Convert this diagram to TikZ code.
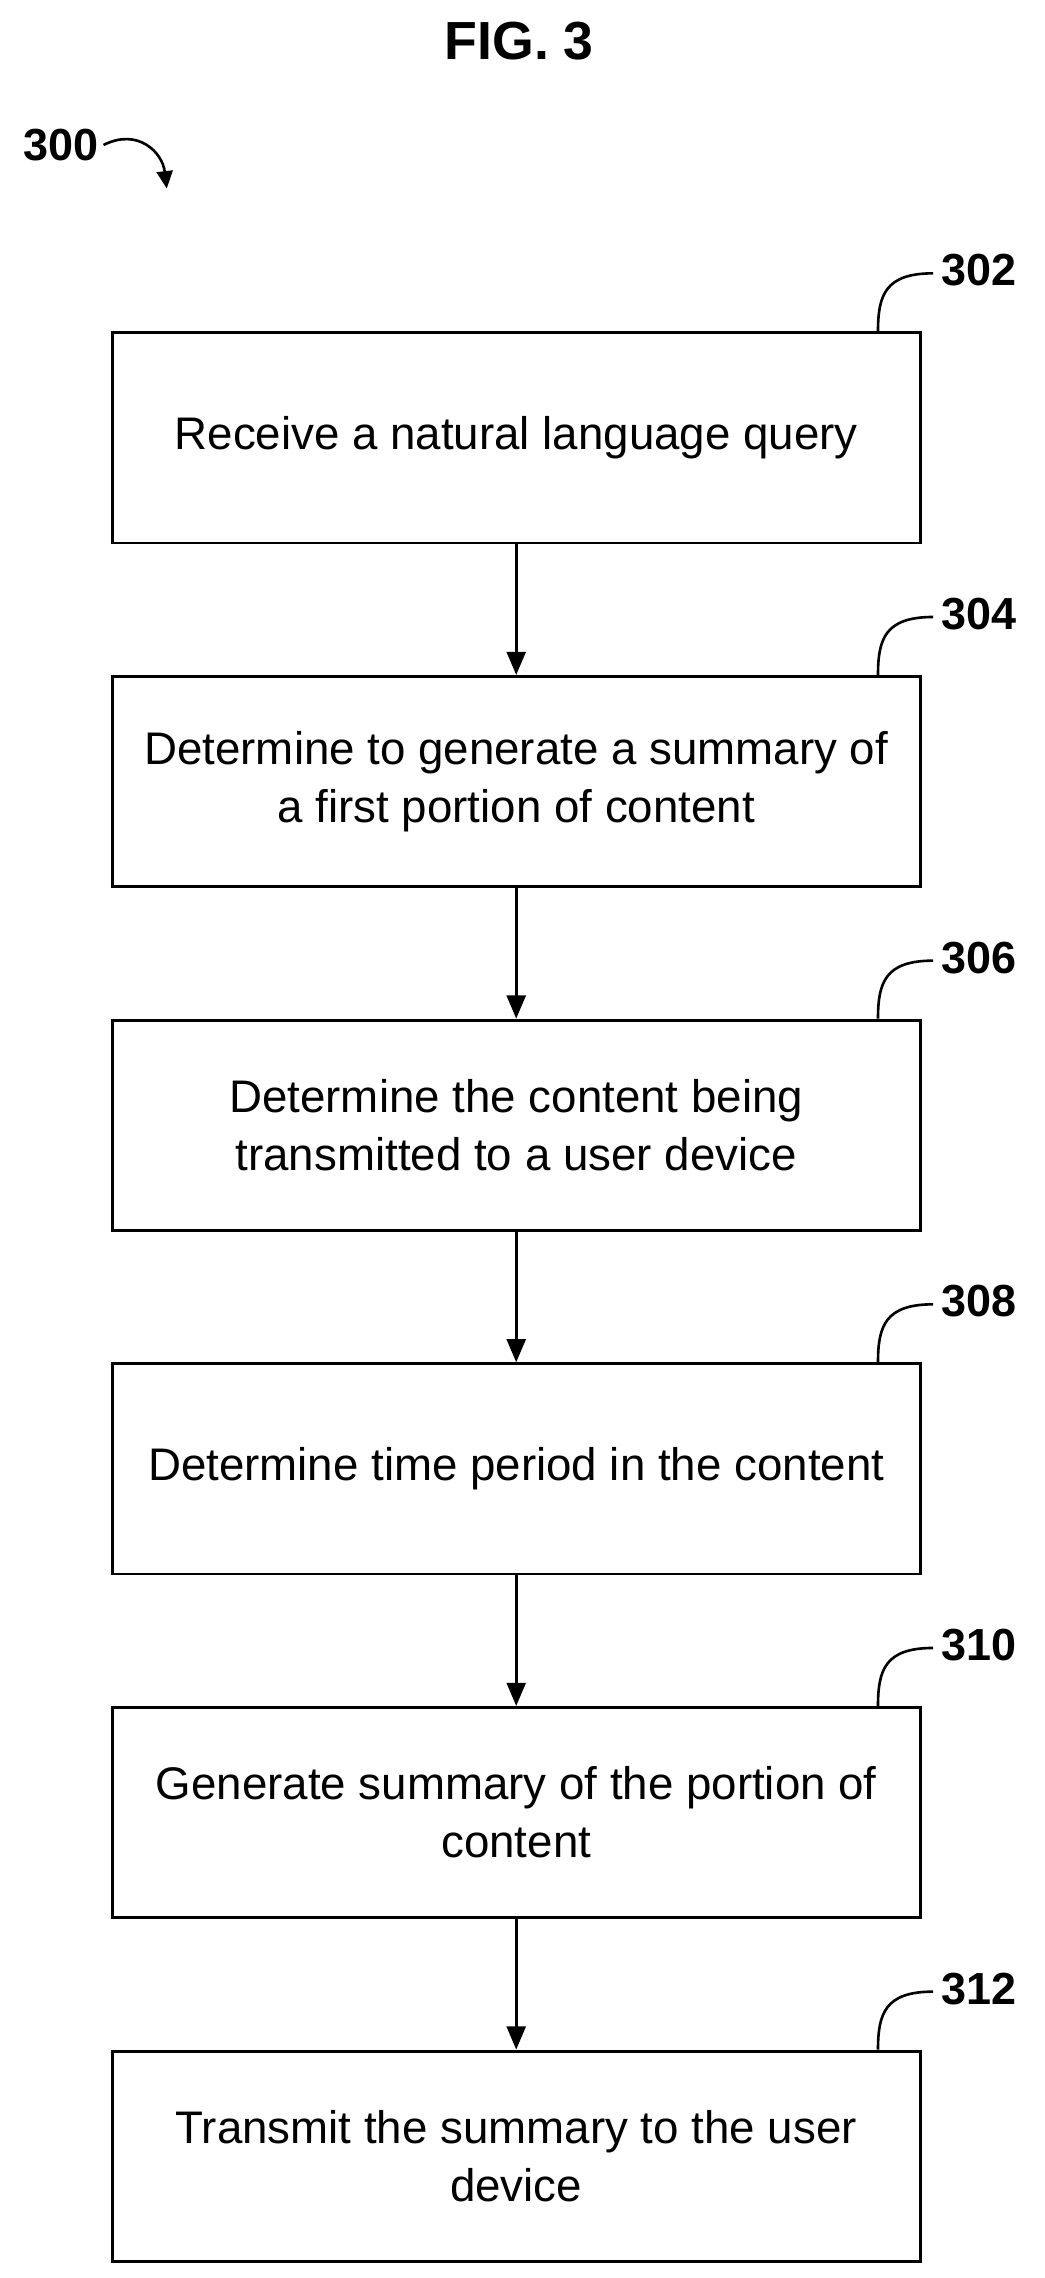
\documentclass[tikz,border=0pt]{standalone}
\usepackage{fontspec}
\setmainfont{Liberation Sans}
\usetikzlibrary{arrows.meta,positioning}
\tikzset{
  stepbox/.style={draw,line width=2pt,minimum width=557pt,minimum height=145pt,
    align=center,font=\fontsize{31.5}{40}\selectfont},
  flow/.style={-{Triangle[length=16pt,width=13pt]},line width=2pt},
  tag/.style={font=\bfseries\fontsize{31}{34}\selectfont}
}
\begin{document}
\begin{tikzpicture}[x=1pt,y=-1pt,node distance=90pt]
  \useasboundingbox (0,0) rectangle (720,1571);
  \node[font=\bfseries\fontsize{37}{40}\selectfont] (fig) at (358,28) {FIG. 3};
  \node[tag] (n300) at (42,100) {300};
  \coordinate (a300) at (115,130);
  \draw[line width=1.8pt,-{Triangle[length=12pt,width=11pt]}] (n300.east) .. controls (95,88) and (112,105) .. (a300);

  \node[stepbox] (s302) at (356,302) {Receive a natural language query};
  \node[stepbox] (s304) [below=of s302] {Determine to generate a summary of\\a first portion of content};
  \node[stepbox] (s306) [below=of s304] {Determine the content being\\transmitted to a user device};
  \node[stepbox] (s308) [below=of s306] {Determine time period in the content};
  \node[stepbox] (s310) [below=of s308] {Generate summary of the portion of\\content};
  \node[stepbox] (s312) [below=of s310] {Transmit the summary to the user\\device};

  \foreach \a/\b in {302/304,304/306,306/308,308/310,310/312}
    \draw[flow] (s\a) -- (s\b);

  \foreach \n in {302,304,306,308,310,312} {
    \coordinate (c\n) at ([xshift=-30pt]s\n.north east);
    \node[tag,anchor=west] (t\n) at ([xshift=10pt,yshift=42pt]s\n.north east) {\n};
    \draw[line width=1.8pt] (c\n) .. controls ([yshift=25pt]c\n) and ([xshift=5pt,yshift=40pt]c\n) .. ([xshift=38pt,yshift=40pt]c\n);
  }
\end{tikzpicture}
\end{document}
